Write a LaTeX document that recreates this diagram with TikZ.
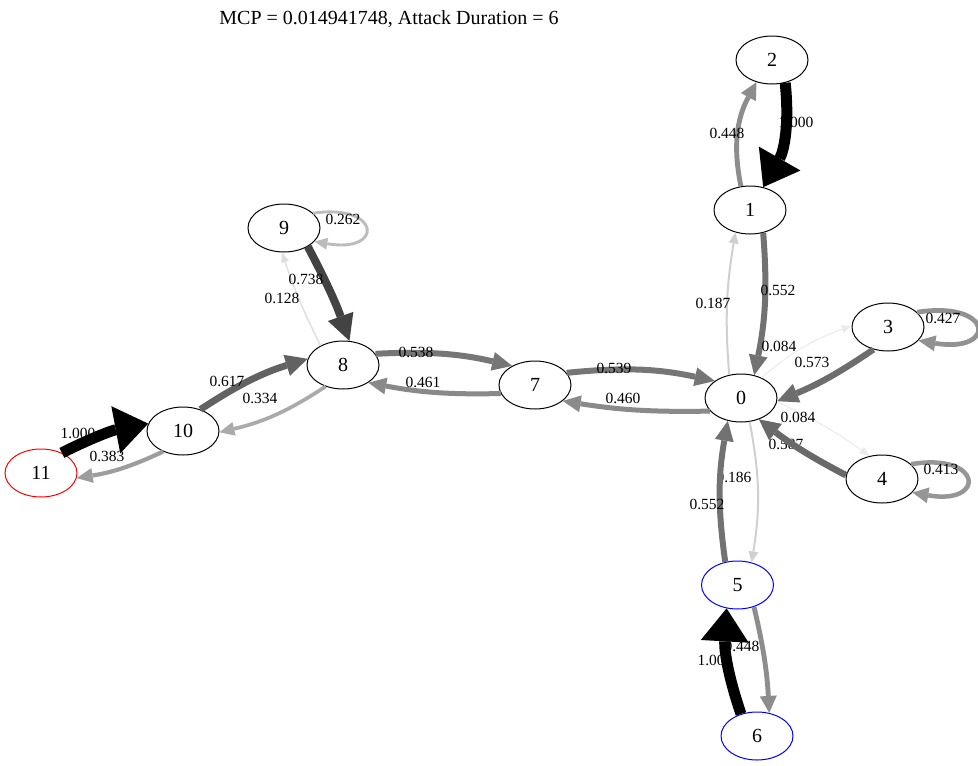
\documentclass[tikz,border=0pt]{standalone}
\usepackage{fontspec}
\setmainfont{Liberation Serif}
\usetikzlibrary{shapes.geometric,arrows.meta}
\newcommand{\mynodefont}{\fontsize{20}{24}\selectfont}
\newcommand{\mylblfont}{\fontsize{15.5}{18}\selectfont}
\newcommand{\mytitlefont}{\fontsize{20}{24}\selectfont}
\tikzset{
  st/.style={ellipse, draw=black, line width=1pt, minimum width=72pt, minimum height=48pt, inner sep=0pt, font=\mynodefont},
  lb/.style={font=\mylblfont, inner sep=0pt},
  ed/.style n args={4}{draw=black!#1, line width=#2pt, line cap=butt, -{Triangle[length=#3pt,width=#4pt,line width=0pt]}},
}
\begin{document}
\begin{tikzpicture}[x=1pt,y=1pt]
\useasboundingbox (0,0) rectangle (978,-766);
% title
\node[font=\mytitlefont, inner sep=0pt] (title) at (389,-19) {MCP = 0.014941748, Attack Duration = 6};
% nodes
\node[st] (n0) at (741,-398) {0};
\node[st] (n1) at (750,-210) {1};
\node[st] (n2) at (772,-60) {2};
\node[st] (n3) at (888,-327) {3};
\node[st] (n4) at (882,-479) {4};
\node[st, draw=blue] (n5) at (737.5,-585) {5};
\node[st, draw=blue] (n6) at (757,-736) {6};
\node[st] (n7) at (535,-385) {7};
\node[st] (n8) at (343,-365) {8};
\node[st] (n9) at (284,-228) {9};
\node[st] (n10) at (183,-431) {10};
\node[st, draw=red] (n11) at (41,-473) {11};
% edge labels partly hidden under later edges
\node[lb] (l21) at (796,-122) {1.000};
\node[lb] (l40) at (786,-444) {0.587};
\node[lb] (l05) at (734,-477) {0.186};
\node[lb] (l56) at (742,-646) {0.448};
\node[lb] (l65) at (715,-660) {1.000};
% edges
\draw[ed={100}{11}{33}{48}] (n2.300) to[bend left=18] (n1.60);
\draw[ed={44.8}{4.9}{17}{17}] (n1.111) to[bend left=20] (n2.235);
\draw[ed={55.2}{6}{20}{19}] (n1.300) to[bend left=8] (n0.60);
\draw[ed={18.7}{2}{11}{10}] (n0.117) to[bend left=7] (n1.237);
\draw[ed={8.4}{1}{10}{8}] (n0.45) to[bend left=10] (n3.178);
\draw[ed={57.3}{6.3}{21}{20}] (n3.237) to[bend left=6] (n0.355);
\draw[ed={42.7}{4.7}{17}{16}] (n3.27) .. controls +(77,12) and +(79,-13) .. (n3.-24);
\draw[ed={8.4}{1}{10}{8}] (n0.354) to[bend left=5] (n4.118);
\draw[ed={58.7}{6.5}{21}{21}] (n4.174) to[bend left=5] (n0.310);
\draw[ed={41.3}{4.5}{16}{16}] (n4.27) .. controls +(72,12) and +(74,-13) .. (n4.-24);
\draw[ed={18.6}{2}{11}{10}] (n0.290) to[bend left=10] (n5.58);
\draw[ed={55.2}{6}{20}{19}] (n5.118) to[bend left=9] (n0.240);
\draw[ed={44.8}{4.9}{17}{17}] (n5.307) to[bend left=5] (n6.62);
\draw[ed={100}{11}{33}{48}] (n6.126) to[bend left=11] (n5.245);
\draw[ed={46}{5}{18}{17}] (n0.203) to[bend left=5] (n7.330);
\draw[ed={53.9}{6}{20}{19}] (n7.21) to[bend left=9] (n0.147);
\draw[ed={46.1}{5}{18}{17}] (n7.194) to[bend left=6] (n8.325);
\draw[ed={53.8}{6}{20}{19}] (n8.19) to[bend left=8] (n7.140);
\draw[ed={12.8}{1.4}{10}{8}] (n8.139) to[bend left=4] (n9.265);
\draw[ed={73.8}{8}{26}{27}] (n9.322) to[bend left=4] (n8.75);
\draw[ed={26.2}{2.9}{13}{12}] (n9.27) .. controls +(68,10) and +(70,-12) .. (n9.-24);
\draw[ed={33.4}{3.7}{15}{14}] (n8.231) to[bend left=10] (n10.358);
\draw[ed={61.7}{6.8}{22}{22}] (n10.51) to[bend left=8] (n8.170);
\draw[ed={38.3}{4.2}{16}{15}] (n10.226) to[bend left=8] (n11.352);
\draw[ed={100}{11}{33}{48}] (n11.44) to[bend left=8] (n10.168);
% edge labels on top of edges
\node[lb] (l12) at (727,-133) {0.448};
\node[lb] (l10) at (778,-290) {0.552};
\node[lb] (l01) at (713,-303) {0.187};
\node[lb] (l03) at (779,-346) {0.084};
\node[lb] (l30) at (812,-362) {0.573};
\node[lb] (l33) at (943,-318) {0.427};
\node[lb] (l04) at (798,-417) {0.084};
\node[lb] (l44) at (941,-469) {0.413};
\node[lb] (l50) at (707,-504) {0.552};
\node[lb] (l07) at (623,-398) {0.460};
\node[lb] (l70) at (614,-368) {0.539};
\node[lb] (l78) at (423,-382) {0.461};
\node[lb] (l87) at (416,-352) {0.538};
\node[lb] (l89) at (282,-298) {0.128};
\node[lb] (l98) at (306,-279) {0.738};
\node[lb] (l99) at (343,-219) {0.262};
\node[lb] (l810) at (260,-398) {0.334};
\node[lb] (l108) at (227,-381) {0.617};
\node[lb] (l1011) at (107,-456) {0.383};
\node[lb] (l1110) at (78,-433) {1.000};
\end{tikzpicture}
\end{document}
